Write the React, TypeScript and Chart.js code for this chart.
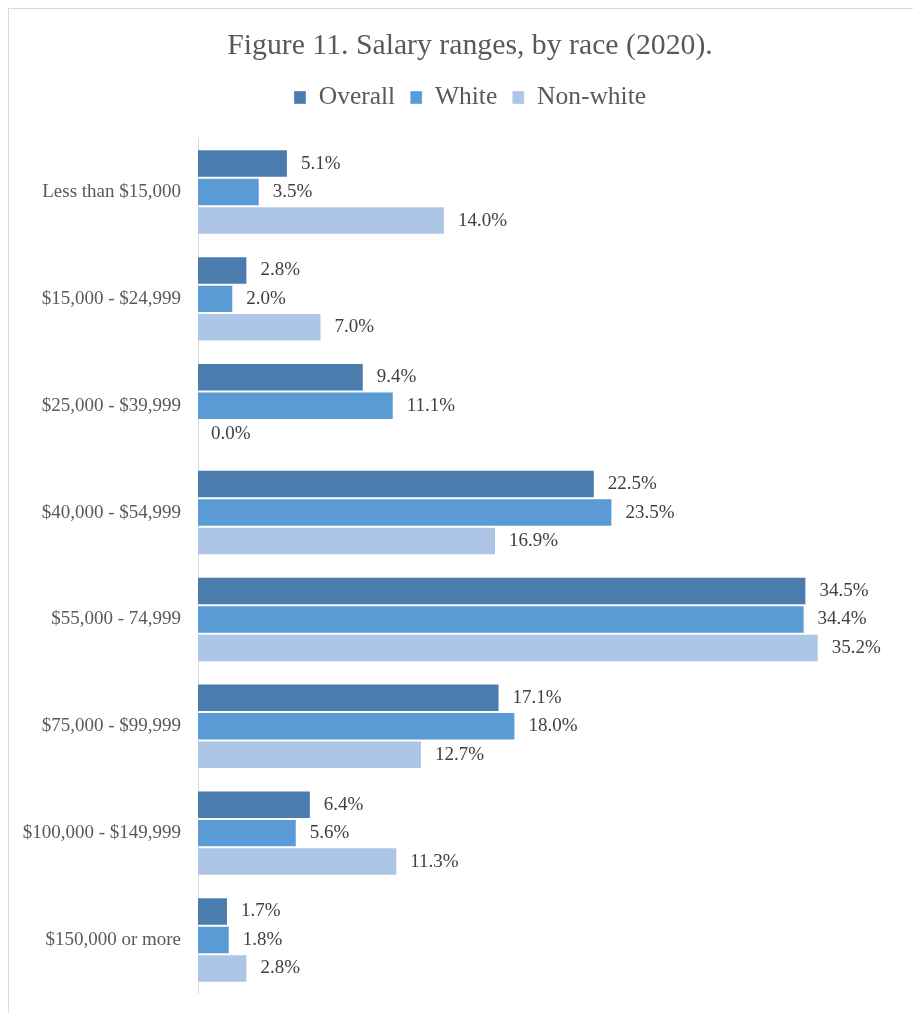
import React, { useEffect, useRef } from "react";
import { Chart, registerables } from "chart.js";

Chart.register(...registerables);

const categories = [
  "Less than $15,000",
  "$15,000 - $24,999",
  "$25,000 - $39,999",
  "$40,000 - $54,999",
  "$55,000 - 74,999",
  "$75,000 - $99,999",
  "$100,000 - $149,999",
  "$150,000 or more",
];

const overallValues = [5.1, 2.8, 9.4, 22.5, 34.5, 17.1, 6.4, 1.7];
const whiteValues = [3.5, 2.0, 11.1, 23.5, 34.4, 18.0, 5.6, 1.8];
const nonWhiteValues = [14.0, 7.0, 0.0, 16.9, 35.2, 12.7, 11.3, 2.8];

const seriesNames = ["Overall", "White", "Non-white"];
const seriesColors = ["#4a7dae", "#5b9bd5", "#adc6e6"];

const titleText = "Figure 11. Salary ranges, by race (2020).";
const FONT = '"Liberation Serif", "Times New Roman", serif';

const dataLabelPlugin = {
  id: "dataLabels",
  afterDatasetsDraw(chart: any) {
    const ctx = chart.ctx;
    ctx.save();
    ctx.font = `19px ${FONT}`;
    ctx.fillStyle = "#404040";
    ctx.textAlign = "left";
    ctx.textBaseline = "middle";
    chart.data.datasets.forEach((ds: any, di: number) => {
      const meta = chart.getDatasetMeta(di);
      meta.data.forEach((el: any, i: number) => {
        const v = ds.data[i] as number;
        ctx.fillText(v.toFixed(1) + "%", el.x + 13, el.y);
      });
    });
    ctx.restore();
  },
};

export default function App() {
  const canvasRef = useRef<HTMLCanvasElement | null>(null);

  useEffect(() => {
    if (!canvasRef.current) return;
    const chart = new Chart(canvasRef.current, {
      type: "bar",
      data: {
        labels: categories,
        datasets: [overallValues, whiteValues, nonWhiteValues].map((vals, i) => ({
          label: seriesNames[i],
          data: vals,
          backgroundColor: seriesColors[i],
          borderColor: "rgba(255,255,255,0.35)",
          borderWidth: 1,
          barPercentage: 1,
          categoryPercentage: 0.8,
        })),
      },
      options: {
        indexAxis: "y",
        animation: false,
        responsive: false,
        maintainAspectRatio: false,
        layout: { padding: { left: 10, right: 10, top: 0, bottom: 19.6 } },
        plugins: {
          title: {
            display: true,
            text: titleText,
            color: "#595959",
            font: { family: FONT, size: 29.75, weight: "normal", lineHeight: 1 },
            padding: { top: 22.3, bottom: 8.7 },
          },
          legend: {
            display: true,
            position: "top",
            weight: 1800,
            labels: {
              color: "#595959",
              font: { family: FONT, size: 25.5 },
              boxWidth: 12,
              boxHeight: 13,
              padding: 15,
            },
          } as any,
          subtitle: {
            display: true,
            text: " ",
            font: { size: 10, lineHeight: 1 },
            padding: { top: 0, bottom: 8.35 },
          },
          tooltip: { enabled: false },
        },
        scales: {
          x: {
            display: false,
            min: 0,
            max: 41,
          },
          y: {
            grid: { display: false, drawTicks: false },
            border: { display: true, color: "#d9d9d9", width: 1 },
            ticks: {
              color: "#595959",
              font: { family: FONT, size: 19 },
              padding: 17,
            },
            afterFit: (scale: any) => {
              scale.width = 179;
              scale.paddingTop = 0;
              scale.paddingBottom = 0;
            },
          },
        },
      },
      plugins: [dataLabelPlugin],
    });
    return () => chart.destroy();
  }, []);

  return (
    <div
      style={{
        position: "fixed",
        left: 0,
        top: 0,
        width: 913,
        height: 1013,
        overflow: "hidden",
        background: "#ffffff",
      }}
    >
      <div
        style={{
          position: "absolute",
          left: 8,
          top: 8,
          width: 924,
          height: 1100,
          border: "1px solid #d9d9d9",
          boxSizing: "border-box",
        }}
      >
        <canvas
          ref={canvasRef}
          width={922}
          height={1004}
          style={{ position: "absolute", left: 0, top: 0, width: 922, height: 1004 }}
        />
      </div>
    </div>
  );
}
